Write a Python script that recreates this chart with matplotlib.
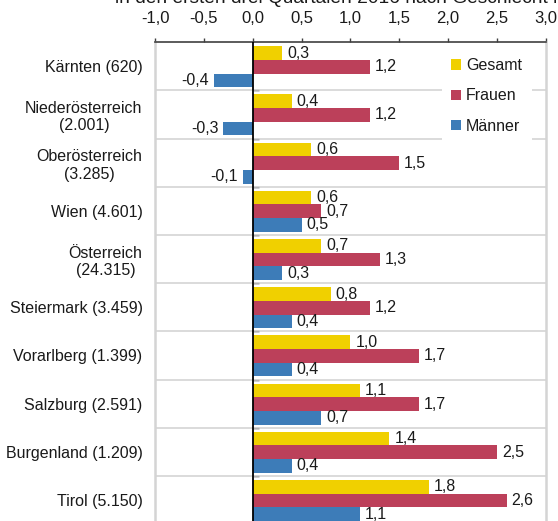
import matplotlib
matplotlib.use("Agg")
import matplotlib.pyplot as plt
import numpy as np
from matplotlib.patches import Patch

plt.rcParams['font.family'] = ['Liberation Sans', 'DejaVu Sans']
plt.rcParams['font.size'] = 11.5

# data
regions = ["Kärnten (620)", "Niederösterreich\n(2.001)", "Oberösterreich\n(3.285)",
           "Wien (4.601)", "Österreich\n(24.315)", "Steiermark (3.459)",
           "Vorarlberg (1.399)", "Salzburg (2.591)", "Burgenland (1.209)",
           "Tirol (5.150)"]
gesamt = [0.3, 0.4, 0.6, 0.6, 0.7, 0.8, 1.0, 1.1, 1.4, 1.8]
frauen = [1.2, 1.2, 1.5, 0.7, 1.3, 1.2, 1.7, 1.7, 2.5, 2.6]
maenner = [-0.4, -0.3, -0.1, 0.5, 0.3, 0.4, 0.4, 0.7, 0.4, 1.1]
series_names = ["Gesamt", "Frauen", "Männer"]
x_ticks = [-1.0, -0.5, 0.0, 0.5, 1.0, 1.5, 2.0, 2.5, 3.0]

colors = ["#F0D000", "#BC405A", "#3D7CB8"]
text_col = "#1a1a1a"
grid_col = "#d4d4d4"

fig = plt.figure(figsize=(5.58, 5.21), dpi=100)
ax = fig.add_axes([0.278, -0.006, 0.700, 0.925])

y = np.arange(len(regions))
h = 0.284
offsets = [-0.275, 0.009, 0.293]

for vals, off, col in zip([gesamt, frauen, maenner], offsets, colors):
    ax.barh(y + off, vals, height=h, color=col, zorder=3)
    for yi, v in zip(y, vals):
        lbl = f"{v:.1f}".replace(".", ",")
        if v >= 0:
            ax.text(v + 0.05, yi + off, lbl, va="center", ha="left",
                    color=text_col, fontsize=11.5, zorder=4)
        else:
            ax.text(v - 0.05, yi + off, lbl, va="center", ha="right",
                    color=text_col, fontsize=11.5, zorder=4)

ax.set_xlim(-1.0, 3.0)
ax.set_ylim(len(regions) - 0.5, -0.5)

# x axis on top
ax.xaxis.tick_top()
ax.set_xticks(x_ticks)
ax.set_xticklabels([f"{t:.1f}".replace(".", ",") for t in x_ticks], color=text_col,
                   fontsize=12)
ax.tick_params(axis="x", direction="out", length=3, width=1, color="#404040", pad=8.5)

# y labels
ax.set_yticks(y)
ax.set_yticklabels(regions, color=text_col)
ax.tick_params(axis="y", length=0, pad=9)
for lab in ax.get_yticklabels():
    lab.set_horizontalalignment("right")
    lab.set_multialignment("center")

# separators between groups
ax.set_yticks(np.arange(len(regions) - 1) + 0.5, minor=True)
ax.tick_params(axis="y", which="minor", length=0)
ax.grid(axis="y", which="minor", color=grid_col, linewidth=1.2, zorder=0)

# spines
ax.spines["top"].set_color("#404040")
ax.spines["top"].set_linewidth(1.2)
ax.spines["bottom"].set_visible(False)
for s in ["left", "right"]:
    ax.spines[s].set_color(grid_col)
    ax.spines[s].set_linewidth(1.8)

# zero line with small boundary ticks
ax.axvline(0, color="black", linewidth=1.3, zorder=5)
sec = ax.secondary_yaxis(0.25)
sec.set_yticks(np.arange(len(regions) - 1) + 0.5)
sec.tick_params(axis="y", direction="in", length=4, width=1, color="black", labelleft=False)
sec.spines["left"].set_visible(False)

# legend
handles = [Patch(facecolor=c, edgecolor="none") for c in colors]
leg = ax.legend(handles, series_names, loc="upper left", bbox_to_anchor=(0.713, 1.003),
                frameon=True, fancybox=False, edgecolor="none", facecolor="white",
                framealpha=1, handlelength=0.63, handleheight=0.63, handletextpad=0.3,
                labelspacing=0.95, borderpad=0.6, fontsize=11.5)
for t in leg.get_texts():
    t.set_color(text_col)
leg.set_zorder(6)

# cut off title at top
fig.text(115 / 558, 0.994, "in den ersten drei Quartalen 2016 nach Geschlecht in %",
         ha="left", va="baseline", fontsize=13.8, color=text_col)

fig.savefig("out.png", dpi=100)
